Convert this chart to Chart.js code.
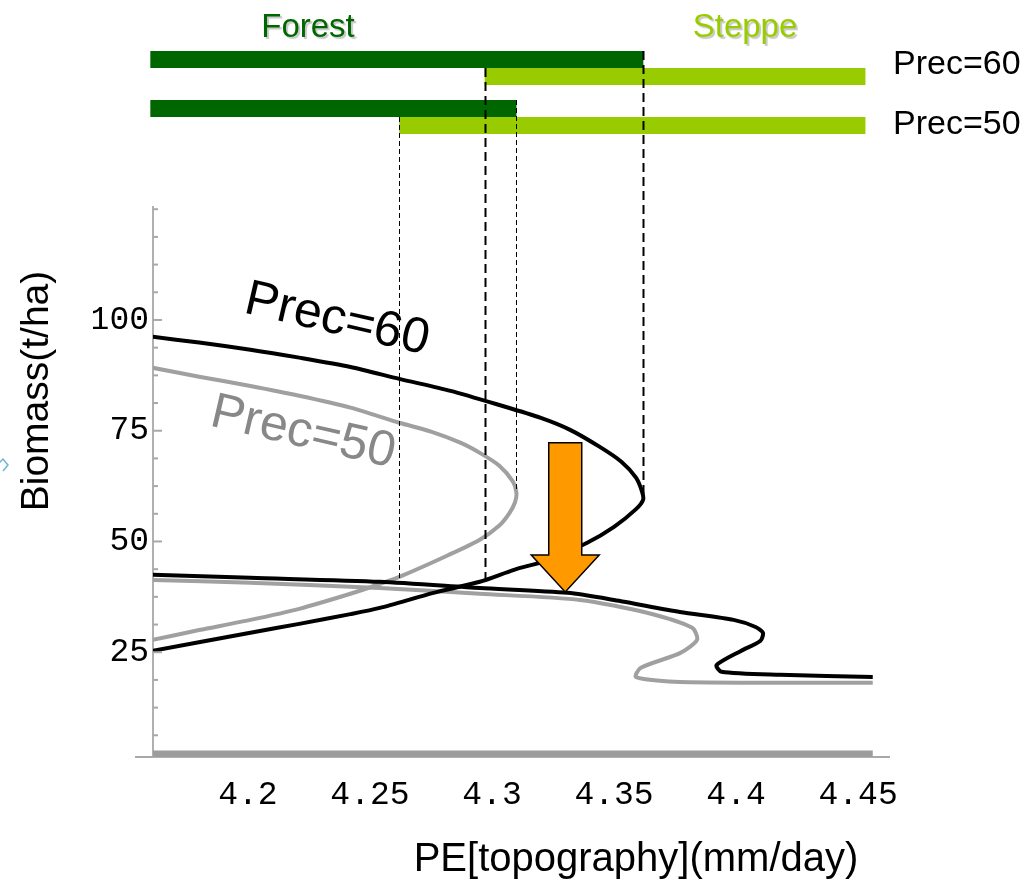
<!DOCTYPE html>
<html>
<head>
<meta charset="utf-8">
<title>Biomass vs PE</title>
<script src="https://cdn.jsdelivr.net/npm/chart.js@4.4.0/dist/chart.umd.min.js"></script>
<style>
  html, body { margin: 0; padding: 0; background: #fff; }
  #wrap { width: 1030px; height: 880px; }
</style>
</head>
<body>
<div id="wrap"><canvas id="myChart" width="1030" height="880"></canvas></div>
<script>
// equilibrium biomass (t/ha) against PE (mm/day), traced branch by branch
const prec60Upper = [
  [4.161, 96.2], [4.180, 94.9], [4.201, 93.3], [4.221, 91.5], [4.242, 89.4],
  [4.262, 86.7], [4.283, 84.0], [4.303, 80.8], [4.320, 77.9], [4.332, 75.2],
  [4.344, 71.4], [4.353, 68.0], [4.359, 64.4], [4.3615, 61.2], [4.3619, 59.4],
  [4.359, 57.3], [4.350, 53.3], [4.339, 49.7], [4.323, 45.8], [4.309, 43.6],
  [4.295, 40.9], [4.276, 38.4], [4.254, 35.0], [4.242, 33.6], [4.221, 31.4],
  [4.201, 29.4], [4.161, 25.3]
];
const prec60Lower = [
  [4.161, 42.5], [4.201, 41.8], [4.254, 40.9], [4.295, 39.5], [4.331, 38.4],
  [4.350, 36.8], [4.377, 34.1], [4.399, 32.3], [4.408, 30.7], [4.411, 29.4],
  [4.410, 27.6], [4.402, 25.3], [4.392, 22.1], [4.394, 20.6], [4.418, 19.9],
  [4.456, 19.4]
];
const prec50Upper = [
  [4.161, 89.2], [4.180, 87.2], [4.201, 85.1], [4.221, 82.9], [4.242, 80.2],
  [4.262, 76.8], [4.275, 74.8], [4.287, 72.3], [4.295, 70.0], [4.303, 67.1],
  [4.3086, 63.5], [4.3100, 61.0], [4.3094, 58.8], [4.3070, 56.3], [4.303, 53.6],
  [4.295, 50.4], [4.282, 46.9], [4.262, 42.0], [4.254, 40.4], [4.242, 38.2],
  [4.221, 34.8], [4.201, 32.3], [4.180, 30.0], [4.161, 27.8]
];
const prec50Lower = [
  [4.161, 41.3], [4.201, 40.7], [4.254, 39.5], [4.295, 38.2], [4.336, 36.8],
  [4.3635, 33.9], [4.382, 30.5], [4.384, 27.8], [4.377, 24.8], [4.361, 21.5],
  [4.359, 19.4], [4.377, 18.3], [4.456, 18.1]
];
const bareSoil = [[4.161, 1.8], [4.456, 1.8]];

const xTickValues = [4.2, 4.25, 4.3, 4.35, 4.4, 4.45];
const xTickLabels = ['4.2', '4.25', '4.3', '4.35', '4.4', '4.45'];
const yTickValues = [25, 50, 75, 100];
const yMinorStep = 6.25;

// forest / steppe ranges of PE for each precipitation
const rowNames = ['Prec=60', 'Prec=50'];
const forestRanges = [[4.16, 4.362], [4.16, 4.310]];
const steppeRanges = [[4.297, 4.453], [4.262, 4.453]];
const forestEndBiomass = [59.6, 61.5];
const steppeStartBiomass = [40.9, 41.3];

const arrowX = 4.330;
const arrowBiomass = [72.3, 38.6];

const SANS = '"Liberation Sans", Arial, sans-serif';
const MONO = '"Liberation Mono", "Courier New", monospace';

const toXY = arr => arr.map(p => ({ x: p[0], y: p[1] }));

function curve(points, color, width) {
  return {
    data: toXY(points),
    showLine: true,
    borderColor: color,
    borderWidth: width,
    pointRadius: 0,
    tension: 0.25,
    fill: false
  };
}

const data = {
  datasets: [
    curve(prec60Upper, '#000000', 4),
    curve(prec60Lower, '#000000', 4),
    curve(prec50Upper, '#a0a0a0', 4),
    curve(prec50Lower, '#a0a0a0', 4),
    curve(bareSoil, '#9c9c9c', 9)
  ]
};

const rowTop = [51, 100];
const barH = 17;

function drawGuides(ctx, x, yPix) {
  for (let i = 0; i < rowNames.length; i++) {
    ctx.strokeStyle = '#000';
    ctx.lineWidth = i === 0 ? 2 : 1;
    ctx.setLineDash(i === 0 ? [9, 5] : [5, 3]);
    const fx = Math.round(x.getPixelForValue(forestRanges[i][1])) + 0.5;
    const sx = Math.round(x.getPixelForValue(steppeRanges[i][0])) + 0.5;
    ctx.beginPath();
    ctx.moveTo(fx, rowTop[i]);
    ctx.lineTo(fx, yPix(forestEndBiomass[i]));
    ctx.moveTo(sx, rowTop[i] + barH);
    ctx.lineTo(sx, yPix(steppeStartBiomass[i]));
    ctx.stroke();
  }
  ctx.setLineDash([]);
}

const decorations = {
  id: 'decorations',
  afterDatasetsDraw(chart) {
    const { ctx, chartArea: area, scales: { x, y } } = chart;
    ctx.save();

    // ticks point into the plot
    ctx.strokeStyle = '#a8a8a8';
    ctx.lineWidth = 2;
    y.ticks.forEach(t => {
      const py = y.getPixelForValue(t.value);
      const len = yTickValues.includes(t.value) ? 9 : 5;
      ctx.beginPath();
      ctx.moveTo(area.left, py);
      ctx.lineTo(area.left + len, py);
      ctx.stroke();
    });
    // x axis runs a bit past both ends
    ctx.beginPath();
    ctx.moveTo(area.left - 18, area.bottom);
    ctx.lineTo(area.left, area.bottom);
    ctx.moveTo(area.right, area.bottom);
    ctx.lineTo(area.right + 17, area.bottom);
    ctx.stroke();

    // orange arrow
    const ax = x.getPixelForValue(arrowX);
    const y0 = y.getPixelForValue(arrowBiomass[0]);
    const y1 = y.getPixelForValue(arrowBiomass[1]);
    const sh = 16.5, hh = 34, hl = 37;
    ctx.beginPath();
    ctx.moveTo(ax - sh, y0);
    ctx.lineTo(ax + sh, y0);
    ctx.lineTo(ax + sh, y1 - hl);
    ctx.lineTo(ax + hh, y1 - hl);
    ctx.lineTo(ax, y1);
    ctx.lineTo(ax - hh, y1 - hl);
    ctx.lineTo(ax - sh, y1 - hl);
    ctx.closePath();
    ctx.fillStyle = '#ff9900';
    ctx.fill();
    ctx.strokeStyle = '#000';
    ctx.lineWidth = 1.5;
    ctx.stroke();

    // curve labels
    ctx.font = '50px ' + SANS;
    ctx.textAlign = 'center';
    ctx.textBaseline = 'middle';
    [['Prec=60', 337, 320, '#000000'], ['Prec=50', 303, 433, '#888888']].forEach(l => {
      ctx.save();
      ctx.translate(l[1], l[2]);
      ctx.rotate(13 * Math.PI / 180);
      ctx.fillStyle = l[3];
      ctx.fillText(l[0], 0, 0);
      ctx.restore();
    });
    ctx.restore();
  },
  afterDraw(chart) {
    const { ctx, scales: { x, y } } = chart;
    ctx.save();
    const rowLabelY = [65, 125];
    for (let i = 0; i < rowNames.length; i++) {
      const f0 = x.getPixelForValue(forestRanges[i][0]);
      const f1 = x.getPixelForValue(forestRanges[i][1]);
      const s0 = x.getPixelForValue(steppeRanges[i][0]);
      const s1 = x.getPixelForValue(steppeRanges[i][1]);
      ctx.fillStyle = '#006600';
      ctx.fillRect(f0, rowTop[i], f1 - f0, barH);
      ctx.fillStyle = '#99cc00';
      ctx.fillRect(s0, rowTop[i] + barH, s1 - s0, barH);
      ctx.fillStyle = '#000';
      ctx.font = '34px ' + SANS;
      ctx.textAlign = 'left';
      ctx.textBaseline = 'middle';
      ctx.fillText(rowNames[i], 893, rowLabelY[i]);
    }
    // dashes stay visible on top of the bars
    drawGuides(ctx, x, v => y.getPixelForValue(v));

    // regime headings with a soft shadow
    ctx.font = '33px ' + SANS;
    ctx.textAlign = 'center';
    ctx.textBaseline = 'middle';
    ctx.shadowColor = 'rgba(0,0,0,0.22)';
    ctx.shadowOffsetX = 2;
    ctx.shadowOffsetY = 2;
    ctx.shadowBlur = 1;
    ctx.fillStyle = '#006600';
    ctx.fillText('Forest', 308, 28);
    ctx.fillStyle = '#99cc00';
    ctx.fillText('Steppe', 745, 28);
    ctx.shadowColor = 'transparent';

    // axis titles
    ctx.fillStyle = '#000';
    ctx.font = '40px ' + SANS;
    ctx.fillText('PE[topography](mm/day)', 636, 860);
    ctx.save();
    ctx.translate(37, 391);
    ctx.rotate(-Math.PI / 2);
    ctx.font = '39px ' + SANS;
    ctx.fillText('Biomass(t/ha)', 0, 0);
    ctx.restore();

    // small marker at the left edge
    ctx.strokeStyle = '#6fb3d6';
    ctx.lineWidth = 1.5;
    ctx.beginPath();
    ctx.moveTo(-3, 465);
    ctx.lineTo(3, 459);
    ctx.lineTo(8, 465);
    ctx.lineTo(3, 471);
    ctx.stroke();
    ctx.restore();
  }
};

const config = {
  type: 'scatter',
  data: data,
  options: {
    responsive: false,
    animation: false,
    devicePixelRatio: 1,
    layout: { padding: { left: 93, right: 157, top: 207, bottom: 63 } },
    plugins: { legend: { display: false }, tooltip: { enabled: false } },
    scales: {
      x: {
        type: 'linear',
        min: 4.1611,
        max: 4.4561,
        grid: { display: false, drawTicks: false },
        border: { display: true, color: '#b0b0b0', width: 2 },
        afterBuildTicks: scale => { scale.ticks = xTickValues.map(v => ({ value: v })); },
        afterFit: scale => { scale.height = 60; },
        ticks: {
          padding: 18,
          color: '#000',
          font: { family: MONO, size: 33 },
          maxRotation: 0,
          autoSkip: false,
          callback: (value) => {
            const i = xTickValues.findIndex(v => Math.abs(v - value) < 1e-6);
            return i >= 0 ? xTickLabels[i] : '';
          }
        }
      },
      y: {
        type: 'linear',
        min: 1.35,
        max: 125.5,
        grid: { display: false, drawTicks: false },
        border: { display: true, color: '#b0b0b0', width: 2 },
        afterBuildTicks: scale => {
          const t = [];
          for (let v = yMinorStep; v <= 125; v += yMinorStep) t.push({ value: v });
          scale.ticks = t;
        },
        afterFit: scale => { scale.width = 60; },
        ticks: {
          padding: 4,
          color: '#000',
          font: { family: MONO, size: 33 },
          autoSkip: false,
          callback: (value) => yTickValues.includes(value) ? String(value) : ''
        }
      }
    }
  },
  plugins: [decorations]
};

const myChart = new Chart(document.getElementById('myChart'), config);
</script>
</body>
</html>
